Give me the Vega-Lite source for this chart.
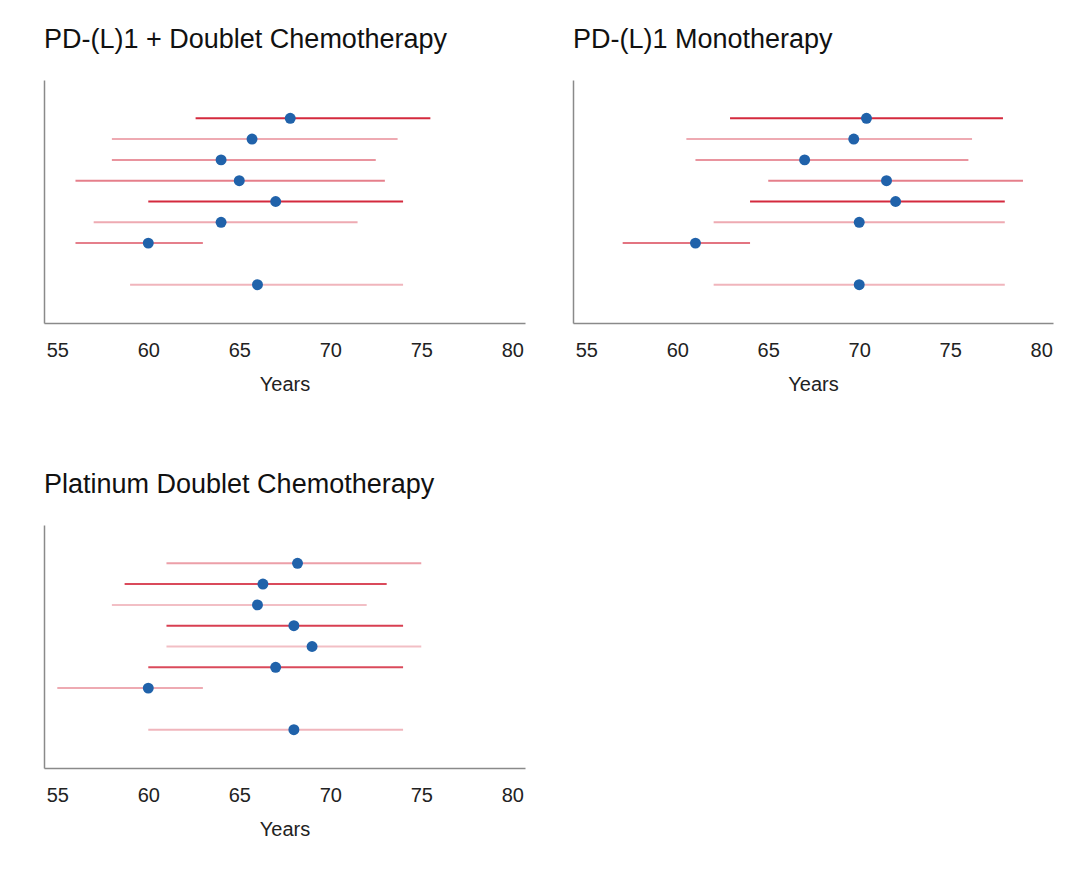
{
  "$schema": "https://vega.github.io/schema/vega-lite/v6.json",
  "background": "white",
  "padding": {"left": 44, "top": 26, "right": 10, "bottom": 10},
  "data": {"values": [
    {"panel": "A", "row": 1, "lo": 62.6, "hi": 75.5, "est": 67.8, "w": 1.0},
    {"panel": "A", "row": 2, "lo": 58.0, "hi": 73.7, "est": 65.7, "w": 0.4},
    {"panel": "A", "row": 3, "lo": 58.0, "hi": 72.5, "est": 64.0, "w": 0.5},
    {"panel": "A", "row": 4, "lo": 56.0, "hi": 73.0, "est": 65.0, "w": 0.6},
    {"panel": "A", "row": 5, "lo": 60.0, "hi": 74.0, "est": 67.0, "w": 1.0},
    {"panel": "A", "row": 6, "lo": 57.0, "hi": 71.5, "est": 64.0, "w": 0.4},
    {"panel": "A", "row": 7, "lo": 56.0, "hi": 63.0, "est": 60.0, "w": 0.6},
    {"panel": "A", "row": 9, "lo": 59.0, "hi": 74.0, "est": 66.0, "w": 0.35},
    {"panel": "B", "row": 1, "lo": 62.9, "hi": 77.9, "est": 70.4, "w": 1.0},
    {"panel": "B", "row": 2, "lo": 60.5, "hi": 76.2, "est": 69.7, "w": 0.4},
    {"panel": "B", "row": 3, "lo": 61.0, "hi": 76.0, "est": 67.0, "w": 0.5},
    {"panel": "B", "row": 4, "lo": 65.0, "hi": 79.0, "est": 71.5, "w": 0.6},
    {"panel": "B", "row": 5, "lo": 64.0, "hi": 78.0, "est": 72.0, "w": 1.0},
    {"panel": "B", "row": 6, "lo": 62.0, "hi": 78.0, "est": 70.0, "w": 0.4},
    {"panel": "B", "row": 7, "lo": 57.0, "hi": 64.0, "est": 61.0, "w": 0.65},
    {"panel": "B", "row": 9, "lo": 62.0, "hi": 78.0, "est": 70.0, "w": 0.35},
    {"panel": "C", "row": 1, "lo": 61.0, "hi": 75.0, "est": 68.2, "w": 0.45},
    {"panel": "C", "row": 2, "lo": 58.7, "hi": 73.1, "est": 66.3, "w": 0.85},
    {"panel": "C", "row": 3, "lo": 58.0, "hi": 72.0, "est": 66.0, "w": 0.3},
    {"panel": "C", "row": 4, "lo": 61.0, "hi": 74.0, "est": 68.0, "w": 0.9},
    {"panel": "C", "row": 5, "lo": 61.0, "hi": 75.0, "est": 69.0, "w": 0.3},
    {"panel": "C", "row": 6, "lo": 60.0, "hi": 74.0, "est": 67.0, "w": 0.85},
    {"panel": "C", "row": 7, "lo": 55.0, "hi": 63.0, "est": 60.0, "w": 0.4},
    {"panel": "C", "row": 9, "lo": 60.0, "hi": 74.0, "est": 68.0, "w": 0.35}
  ]},
  "spacing": 77,
  "vconcat": [
    {
      "spacing": 48,
      "hconcat": [
        {
          "title": "PD-(L)1 + Doublet Chemotherapy",
          "width": 481, "height": 243,
          "transform": [{"filter": "datum.panel == 'A'"}],
          "layer": [
            {"mark": {"type": "rule", "strokeWidth": 2, "color": "#d42a3e"},
             "encoding": {
               "x": {"field": "lo", "type": "quantitative", "scale": {"domain": [54.27, 80.7], "nice": false, "zero": false}, "axis": {"values": [55, 60, 65, 70, 75, 80], "title": "Years"}},
               "x2": {"field": "hi"},
               "y": {"field": "row", "type": "quantitative", "scale": {"domain": [-0.84, 10.84], "reverse": true, "nice": false, "zero": false}, "axis": {"labels": false, "ticks": false, "title": null, "grid": false}},
               "opacity": {"field": "w", "type": "quantitative", "scale": null, "legend": null}
             }},
            {"mark": {"type": "point", "filled": true, "size": 120, "color": "#2062aa", "opacity": 1},
             "encoding": {
               "x": {"field": "est", "type": "quantitative"},
               "y": {"field": "row", "type": "quantitative"}
             }}
          ]
        },
        {
          "title": "PD-(L)1 Monotherapy",
          "width": 480, "height": 243,
          "transform": [{"filter": "datum.panel == 'B'"}],
          "layer": [
            {"mark": {"type": "rule", "strokeWidth": 2, "color": "#d42a3e"},
             "encoding": {
               "x": {"field": "lo", "type": "quantitative", "scale": {"domain": [54.27, 80.65], "nice": false, "zero": false}, "axis": {"values": [55, 60, 65, 70, 75, 80], "title": "Years"}},
               "x2": {"field": "hi"},
               "y": {"field": "row", "type": "quantitative", "scale": {"domain": [-0.84, 10.84], "reverse": true, "nice": false, "zero": false}, "axis": {"labels": false, "ticks": false, "title": null, "grid": false}},
               "opacity": {"field": "w", "type": "quantitative", "scale": null, "legend": null}
             }},
            {"mark": {"type": "point", "filled": true, "size": 120, "color": "#2062aa", "opacity": 1},
             "encoding": {
               "x": {"field": "est", "type": "quantitative"},
               "y": {"field": "row", "type": "quantitative"}
             }}
          ]
        }
      ]
    },
    {
      "title": "Platinum Doublet Chemotherapy",
      "width": 481, "height": 243,
      "transform": [{"filter": "datum.panel == 'C'"}],
      "layer": [
        {"mark": {"type": "rule", "strokeWidth": 2, "color": "#d42a3e"},
         "encoding": {
           "x": {"field": "lo", "type": "quantitative", "scale": {"domain": [54.27, 80.7], "nice": false, "zero": false}, "axis": {"values": [55, 60, 65, 70, 75, 80], "title": "Years"}},
           "x2": {"field": "hi"},
           "y": {"field": "row", "type": "quantitative", "scale": {"domain": [-0.84, 10.84], "reverse": true, "nice": false, "zero": false}, "axis": {"labels": false, "ticks": false, "title": null, "grid": false}},
           "opacity": {"field": "w", "type": "quantitative", "scale": null, "legend": null}
         }},
        {"mark": {"type": "point", "filled": true, "size": 120, "color": "#2062aa", "opacity": 1},
         "encoding": {
           "x": {"field": "est", "type": "quantitative"},
           "y": {"field": "row", "type": "quantitative"}
         }}
      ]
    }
  ],
  "config": {
    "view": {"stroke": null},
    "font": "Liberation Sans",
    "title": {"anchor": "start", "frame": "group", "fontSize": 27, "fontWeight": "normal", "font": "Liberation Sans", "color": "#111111", "offset": 26},
    "axis": {"domainColor": "#8a8a8a", "domainWidth": 1.5, "grid": false, "ticks": false, "labelFont": "Liberation Sans", "labelFontSize": 20, "labelColor": "#222222", "labelPadding": 17, "titleFont": "Liberation Sans", "titleFontSize": 20, "titleFontWeight": "normal", "titleColor": "#222222", "titlePadding": 14, "labelFlush": false}
  }
}
